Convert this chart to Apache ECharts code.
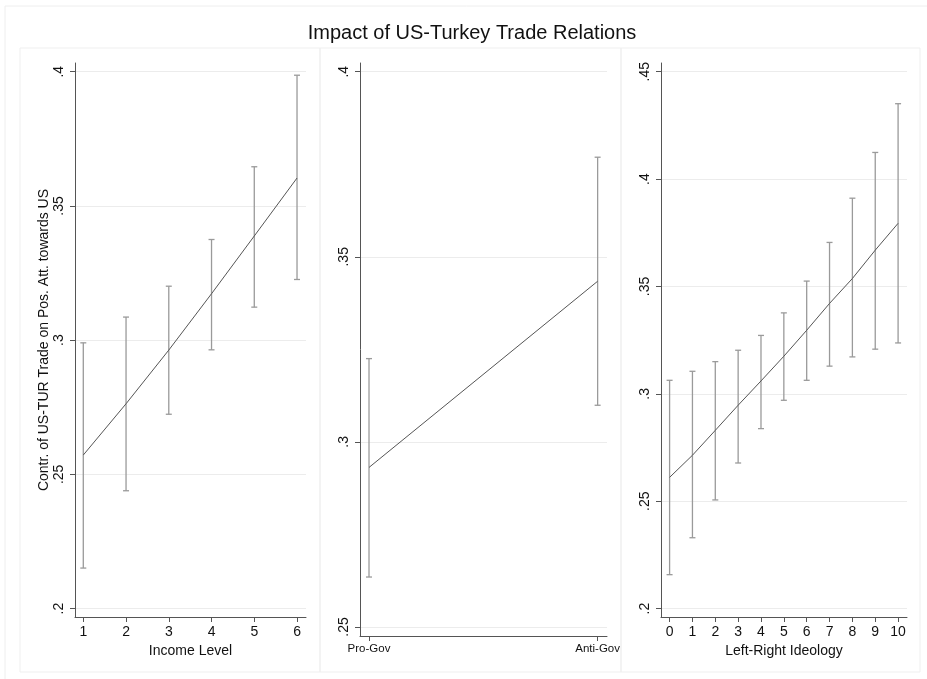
<!DOCTYPE html>
<html>
<head>
<meta charset="utf-8">
<script src="https://cdn.jsdelivr.net/npm/echarts@6/dist/echarts.min.js"></script>
<style>
html,body{margin:0;padding:0;background:#fff;}
#chart{width:927px;height:679px;}
</style>
</head>
<body>
<div id="chart"></div>
<script>
// ---- Data ----
const chartTitle = 'Impact of US-Turkey Trade Relations';
const yAxisTitle = 'Contr. of US-TUR Trade on Pos. Att. towards US';

// Panel 1: Income level
const incomeLevels = [1, 2, 3, 4, 5, 6];
const incomeFit = [0.2572, 0.2763, 0.2963, 0.3173, 0.3388, 0.3604];
const incomeLo  = [0.2151, 0.2439, 0.2724, 0.2964, 0.3123, 0.3226];
const incomeHi  = [0.2990, 0.3086, 0.3201, 0.3375, 0.3646, 0.3987];
const incomeYTicks = [0.2, 0.25, 0.3, 0.35, 0.4];

// Panel 2: Government stance
const govCategories = ['Pro-Gov', 'Anti-Gov'];
const govFit = [0.2931, 0.3434];
const govLo  = [0.2635, 0.3099];
const govHi  = [0.3225, 0.3769];
const govYTicks = [0.25, 0.3, 0.35, 0.4];

// Panel 3: Left-right ideology
const ideology = [0, 1, 2, 3, 4, 5, 6, 7, 8, 9, 10];
const ideoFit = [0.2611, 0.2714, 0.2830, 0.2947, 0.3060, 0.3175, 0.3296, 0.3421, 0.3537, 0.3669, 0.3794];
const ideoLo  = [0.2158, 0.2330, 0.2506, 0.2678, 0.2838, 0.2970, 0.3063, 0.3129, 0.3172, 0.3208, 0.3237];
const ideoHi  = [0.3063, 0.3105, 0.3150, 0.3203, 0.3272, 0.3377, 0.3525, 0.3705, 0.3911, 0.4124, 0.4351];
const ideoYTicks = [0.2, 0.25, 0.3, 0.35, 0.4, 0.45];

// ---- Styles ----
const FONT = '"Liberation Sans", Arial, sans-serif';
const AXIS_COLOR = '#555';
const GRID_COLOR = '#ececec';
const BAR_COLOR = '#9a9a9a';
const LINE_COLOR = '#555';

const fmtY = v => String(+(+v).toFixed(2)).replace(/^0\./, '.');

function yAxis(gridIndex, min, max, ticks, name) {
  return {
    type: 'value', gridIndex, min, max,
    name: name || '', nameLocation: 'middle', nameGap: 23,
    nameTextStyle: { fontFamily: FONT, fontSize: 14, color: '#111' },
    axisLine: { show: true, onZero: false, lineStyle: { color: AXIS_COLOR, width: 1 } },
    axisTick: { show: true, length: 5, customValues: ticks, lineStyle: { color: AXIS_COLOR } },
    axisLabel: { customValues: ticks, rotate: 90, margin: 9, formatter: fmtY,
      fontFamily: FONT, fontSize: 14, color: '#111' },
    splitLine: { show: true, lineStyle: { color: GRID_COLOR, width: 1 } }
  };
}
function xAxis(gridIndex, min, max, ticks, name, labelFmt, labelSize, labelMargin) {
  return {
    type: 'value', gridIndex, min, max,
    name: name || '', nameLocation: 'middle', nameGap: 23,
    nameTextStyle: { fontFamily: FONT, fontSize: 14, color: '#111' },
    axisLine: { show: true, onZero: false, lineStyle: { color: AXIS_COLOR, width: 1 } },
    axisTick: { show: true, length: 5, customValues: ticks, lineStyle: { color: AXIS_COLOR } },
    axisLabel: { customValues: ticks, margin: labelMargin, formatter: labelFmt || (v => String(v)),
      fontFamily: FONT, fontSize: labelSize, color: '#111' },
    splitLine: { show: false }
  };
}
function errorBars(xs, lo, hi, idx) {
  return {
    type: 'custom', xAxisIndex: idx, yAxisIndex: idx, silent: true, z: 2,
    data: xs.map((x, i) => [x, lo[i], hi[i]]),
    encode: { x: 0, y: [1, 2] },
    renderItem(params, api) {
      const x = api.value(0);
      const p1 = api.coord([x, api.value(1)]);
      const p2 = api.coord([x, api.value(2)]);
      const w = 3;
      const st = { stroke: BAR_COLOR, lineWidth: 1.3 };
      return { type: 'group', children: [
        { type: 'line', shape: { x1: p1[0], y1: p1[1], x2: p2[0], y2: p2[1] }, style: st },
        { type: 'line', shape: { x1: p1[0] - w, y1: p1[1], x2: p1[0] + w, y2: p1[1] }, style: st },
        { type: 'line', shape: { x1: p2[0] - w, y1: p2[1], x2: p2[0] + w, y2: p2[1] }, style: st }
      ]};
    }
  };
}
function fitLine(xs, ys, idx) {
  return {
    type: 'line', xAxisIndex: idx, yAxisIndex: idx, z: 3, silent: true,
    data: xs.map((x, i) => [x, ys[i]]),
    symbol: 'none', lineStyle: { color: LINE_COLOR, width: 1 }, animation: false
  };
}

const govIdx = govCategories.map((c, i) => i);

const option = {
  animation: false,
  backgroundColor: '#fff',
  graphic: [
    { type: 'rect', shape: { x: 5, y: 6, width: 940, height: 700 }, style: { fill: 'none', stroke: '#eeeeee', lineWidth: 1 }, silent: true },
    { type: 'rect', shape: { x: 20, y: 48, width: 300, height: 624 }, style: { fill: 'none', stroke: '#efefef', lineWidth: 1 }, silent: true },
    { type: 'rect', shape: { x: 320, y: 48, width: 301, height: 624 }, style: { fill: 'none', stroke: '#efefef', lineWidth: 1 }, silent: true },
    { type: 'rect', shape: { x: 621, y: 48, width: 299, height: 624 }, style: { fill: 'none', stroke: '#efefef', lineWidth: 1 }, silent: true },
    { type: 'text', x: 472, y: 33, style: { text: chartTitle, fontFamily: FONT, fontSize: 20, fill: '#111', textAlign: 'center', textVerticalAlign: 'middle' }, silent: true }
  ],
  grid: [
    { left: 75, top: 63, width: 231, height: 554 },
    { left: 360, top: 63, width: 247, height: 573 },
    { left: 661, top: 63, width: 246, height: 554 }
  ],
  xAxis: [
    xAxis(0, 0.806, 6.21, incomeLevels, 'Income Level', null, 14, 8),
    xAxis(1, -0.0394, 1.041, govIdx, '', v => govCategories[Math.round(v)], 11.5, 7),
    xAxis(2, -0.376, 10.39, ideology, 'Left-Right Ideology', null, 14, 8)
  ],
  yAxis: [
    yAxis(0, 0.19687, 0.40325, incomeYTicks, yAxisTitle),
    yAxis(1, 0.24757, 0.40235, govYTicks, ''),
    yAxis(2, 0.19609, 0.45405, ideoYTicks, '')
  ],
  series: [
    errorBars(incomeLevels, incomeLo, incomeHi, 0),
    fitLine(incomeLevels, incomeFit, 0),
    errorBars(govIdx, govLo, govHi, 1),
    fitLine(govIdx, govFit, 1),
    errorBars(ideology, ideoLo, ideoHi, 2),
    fitLine(ideology, ideoFit, 2)
  ]
};

const chart = echarts.init(document.getElementById('chart'), null, { renderer: 'canvas' });
chart.setOption(option);
</script>
</body>
</html>
